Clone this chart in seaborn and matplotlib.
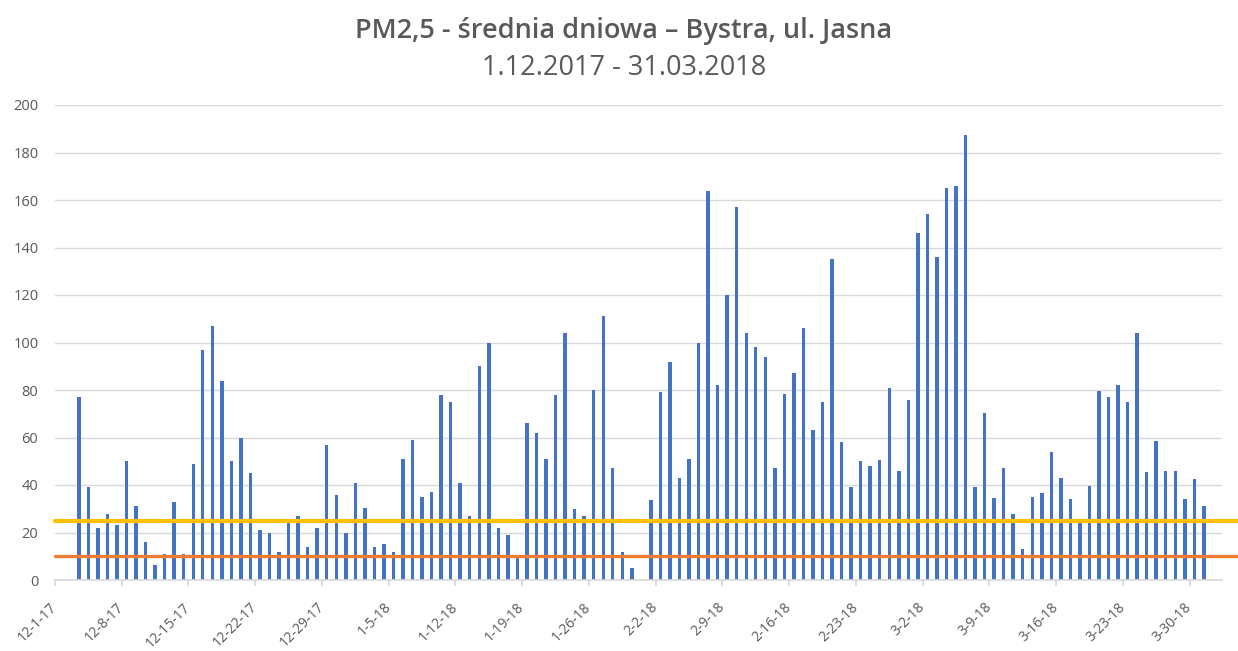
import numpy as np
import pandas as pd
import matplotlib
matplotlib.use("Agg")
import matplotlib.pyplot as plt
import matplotlib.transforms as mtransforms
import seaborn as sns

# ---- data -------------------------------------------------------------
start_date = "2017-12-03"
end_date = "2018-03-31"
pm25 = [
    77, 39, 22, 28, 23, 50, 31, 16, 6.5, 11,
    33, 11, 49, 97, 107, 84, 50, 60, 45, 21,
    20, 12, 24, 27, 14, 22, 57, 36, 20, 41,
    30.5, 14, 15, 12, 51, 59, 35, 37, 78, 75,
    41, 27, 90, 100, 22, 19, 10, 66, 62, 51,
    78, 104, 30, 27, 80, 111, 47, 12, 5, np.nan,
    33.5, 79, 92, 43, 51, 100, 164, 82, 120, 157,
    104, 98, 94, 47, 78.5, 87, 106, 63, 75, 135,
    58, 39, 50, 48, 50.5, 81, 46, 76, 146, 154,
    136, 165, 166, 187.5, 39, 70.5, 34.5, 47, 28, 13,
    35, 36.5, 54, 43, 34, 25, 39.5, 79.5, 77, 82,
    75, 104, 45.5, 58.5, 46, 46, 34, 42.5, 31,
]
axis_start = "2017-12-01"
tick_step_days = 7
n_ticks = 18
limit_high = 25   # yellow line
limit_low = 10    # orange line
title_line1 = "PM2,5 - średnia dniowa – Bystra, ul. Jasna"
title_line2 = "1.12.2017 - 31.03.2018"
y_ticks = list(range(0, 201, 20))

# ---- build table ------------------------------------------------------
dates = pd.date_range(start_date, end_date, freq="D")
origin = pd.Timestamp(axis_start)
df = pd.DataFrame({"date": dates, "pm25": pm25})
df["day"] = (df["date"] - origin).dt.days + 0.5

tick_dates = [origin + pd.Timedelta(days=tick_step_days * k) for k in range(n_ticks)]
tick_pos = [(d - origin).days for d in tick_dates]
tick_labels = [f"{d.month}-{d.day}-{d.year % 100}" for d in tick_dates]

# ---- style ------------------------------------------------------------
sns.set_theme(style="white")
plt.rcParams["font.family"] = ["Open Sans", "DejaVu Sans"]
text_col = "#595959"

fig = plt.figure(figsize=(12.38, 6.51), dpi=100)
ax = fig.add_axes([55 / 1238, 71 / 651, (1222 - 55) / 1238, (580 - 105) / 651])

sns.barplot(data=df.dropna(), x="day", y="pm25", native_scale=True,
            width=0.36, color="#4472C4", saturation=1, errorbar=None,
            linewidth=0, ax=ax, zorder=2)

ax.axhline(limit_high, color="#FFC000", lw=3.0, xmin=0, xmax=1.02,
           clip_on=False, zorder=4)
ax.axhline(limit_low, color="#ED7D31", lw=2.4, xmin=0, xmax=1.02,
           clip_on=False, zorder=4)

ax.set_xlim(0, 122.4)
ax.set_ylim(0, 200)
ax.set_yticks(y_ticks)
ax.set_yticklabels([str(v) for v in y_ticks], color=text_col, fontsize=10.5)
ax.yaxis.grid(True, color="#D9D9D9", lw=1.0)
ax.set_axisbelow(True)
ax.set_xticks(tick_pos)
ax.set_xticklabels(tick_labels, rotation=45, ha="right", va="center",
                   rotation_mode="anchor", color=text_col, fontsize=10)
shift = mtransforms.ScaledTranslation(5 / 100, 0, fig.dpi_scale_trans)
for lab in ax.get_xticklabels():
    lab.set_transform(lab.get_transform() + shift)
ax.tick_params(axis="y", length=0, pad=12)
ax.tick_params(axis="x", length=4, color="#D9D9D9", pad=14, bottom=True)
ax.set_xlabel("")
ax.set_ylabel("")
for s in ["top", "right", "left"]:
    ax.spines[s].set_visible(False)
ax.spines["bottom"].set_color("#D9D9D9")

fig.text(624 / 1238, 1 - 38 / 651, title_line1, ha="center", va="baseline",
         fontsize=19.5, fontweight="semibold", color=text_col)
fig.text(624 / 1238, 1 - 75 / 651, title_line2, ha="center", va="baseline",
         fontsize=19.5, color=text_col)

fig.savefig("out.png", dpi=100, facecolor="white")
